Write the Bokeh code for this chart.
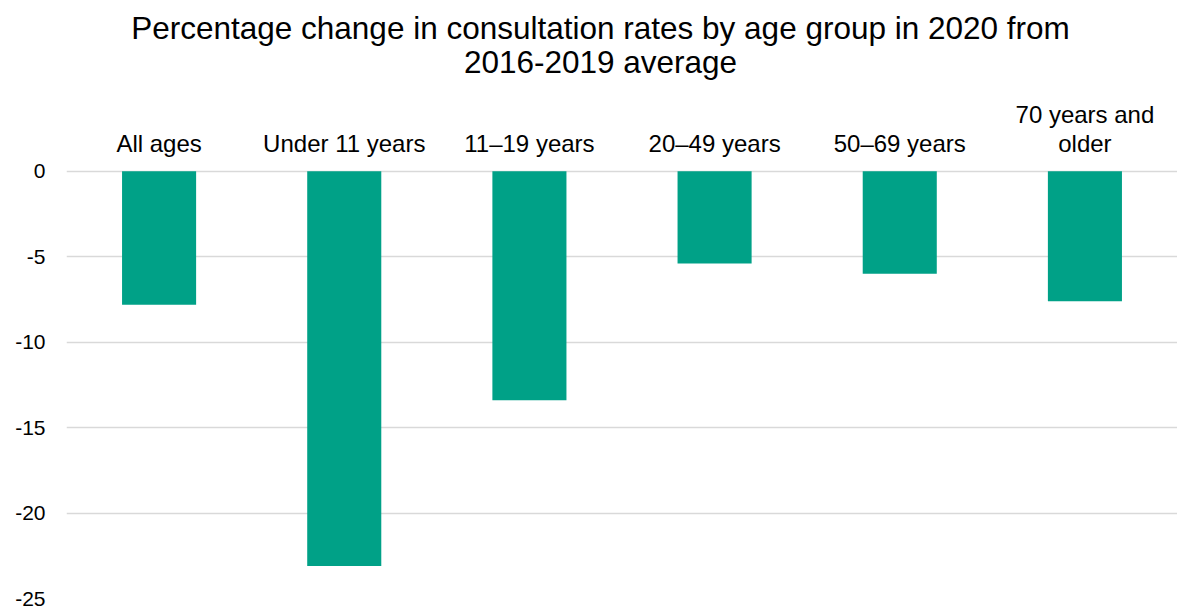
from bokeh.plotting import figure
from bokeh.models import Range1d, FixedTicker
from bokeh.core.properties import value
from bokeh.embed import file_html
from bokeh.resources import INLINE

# ---- data ----
categories = ["All ages", "Under 11 years", "11\u201319 years", "20\u201349 years",
              "50\u201369 years", "70 years and\nolder"]
values = [-7.8, -23.1, -13.4, -5.4, -6.0, -7.6]
y_ticks = [0, -5, -10, -15, -20, -25]
title_lines = ["Percentage change in consultation rates by age group in 2020 from",
               "2016-2019 average"]

# ---- layout constants ----
FONT = "Liberation Sans"
W, H = 1177, 608
LEFT, BOTTOM = 66, 10
Y_MIN, Y_MAX = -25, 10.0          # space above 0 holds the title and category labels
ppu = (H - BOTTOM) / (Y_MAX - Y_MIN)   # pixels per unit
n = len(categories)
frame_w = W - LEFT

p = figure(x_range=categories, y_range=Range1d(Y_MIN, Y_MAX), width=W, height=H,
           x_axis_location=None, output_backend="svg", toolbar_location=None,
           min_border_left=LEFT, min_border_right=0, min_border_top=0, min_border_bottom=BOTTOM)
p.title = None
p.outline_line_color = None
p.xgrid.grid_line_color = None
p.ygrid.grid_line_color = "#d9d9d9"
p.ygrid.grid_line_width = 1.5
p.ygrid.ticker = FixedTicker(ticks=y_ticks)

ax = p.yaxis[0]
ax.ticker = FixedTicker(ticks=y_ticks)
ax.major_label_overrides = {t: str(t) for t in y_ticks}
ax.axis_line_color = None
ax.major_tick_line_color = None
ax.minor_tick_line_color = None
ax.major_tick_out = 0
ax.major_tick_in = 0
ax.major_label_text_font = FONT
ax.major_label_text_color = "#000000"
ax.major_label_text_font_size = "21px"
ax.major_label_standoff = 21

# bars
p.vbar(x=categories, top=0, bottom=values, width=0.4, fill_color="#00A187", line_color=None)

# category labels (above the zero line), last line lowest, earlier lines stacked up
label_px = 28
line_gap = 29
bottom_lines = [c.split("\n")[-1] for c in categories]
p.text(x=categories, y=[label_px / ppu] * n, text=bottom_lines, text_align="center",
       text_baseline="alphabetic", text_font=value(FONT), text_font_size="24px",
       text_color="#000000")
upper_x, upper_y, upper_t = [], [], []
for c in categories:
    parts = c.split("\n")[:-1]
    for k, part in enumerate(reversed(parts)):
        upper_x.append(c)
        upper_y.append((label_px + line_gap * (k + 1)) / ppu)
        upper_t.append(part)
if upper_t:
    p.text(x=upper_x, y=upper_y, text=upper_t, text_align="center",
           text_baseline="alphabetic", text_font=value(FONT), text_font_size="24px",
           text_color="#000000")

# title, centred at 600px of the page
title_cx = (600 - LEFT) / frame_w * n
p.text(x=[title_cx, title_cx], y=[143 / ppu, 109 / ppu], text=title_lines,
       text_align="center", text_baseline="alphabetic", text_font=value(FONT),
       text_font_size="31.5px", text_color="#000000")

open("out.html", "w").write(file_html(p, INLINE))
